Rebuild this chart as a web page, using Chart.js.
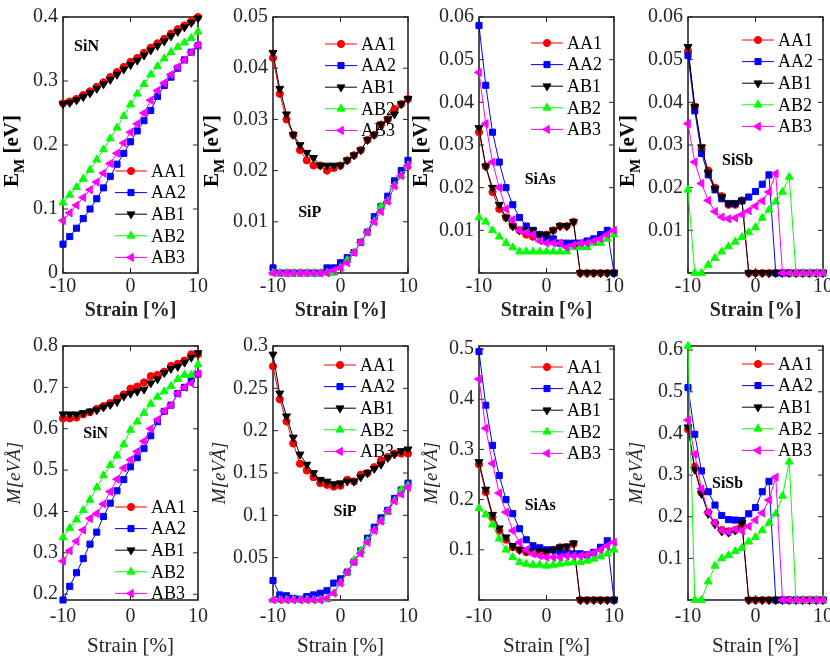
<!DOCTYPE html>
<html><head><meta charset="utf-8">
<script src="https://cdn.jsdelivr.net/npm/chart.js@4.4.1/dist/chart.umd.min.js"></script>
<style>
html,body{margin:0;padding:0;background:#fff;}
#wrap{position:relative;width:830px;height:657px;overflow:hidden;background:#fff;}
.cell{position:absolute;width:225px;height:328px;}
</style></head><body><div id="wrap"></div>
<script>
// ---------- data ----------
const strain = [-10,-9,-8,-7,-6,-5,-4,-3,-2,-1,0,1,2,3,4,5,6,7,8,9,10];
const seriesNames = ['AA1','AA2','AB1','AB2','AB3'];

// E_M [eV]
const siN_E_AA1 = [0.265,0.268,0.272,0.278,0.284,0.291,0.298,0.306,0.314,0.322,0.330,0.336,0.344,0.352,0.359,0.366,0.374,0.381,0.387,0.393,0.400];
const siN_E_AA2 = [0.045,0.057,0.070,0.085,0.100,0.116,0.133,0.151,0.170,0.187,0.205,0.222,0.238,0.254,0.276,0.293,0.306,0.320,0.333,0.345,0.355];
const siN_E_AB1 = [0.264,0.266,0.270,0.275,0.281,0.288,0.295,0.302,0.310,0.318,0.325,0.332,0.340,0.348,0.355,0.362,0.370,0.377,0.384,0.391,0.398];
const siN_E_AB2 = [0.110,0.122,0.134,0.147,0.161,0.177,0.193,0.210,0.227,0.245,0.263,0.280,0.295,0.310,0.323,0.335,0.345,0.353,0.360,0.367,0.377];
const siN_E_AB3 = [0.082,0.094,0.106,0.118,0.130,0.142,0.156,0.171,0.187,0.203,0.220,0.233,0.250,0.270,0.285,0.297,0.310,0.322,0.333,0.345,0.356];

const siP_E_AA1 = [0.042,0.035,0.030,0.027,0.024,0.022,0.021,0.021,0.020,0.0205,0.021,0.022,0.023,0.024,0.026,0.027,0.029,0.030,0.032,0.033,0.034];
const siP_E_AA2 = [0.001,0,0,0,0,0,0,0,0.001,0.001,0.002,0.003,0.004,0.006,0.008,0.011,0.013,0.015,0.018,0.020,0.022];
const siP_E_AB1 = [0.043,0.036,0.031,0.027,0.025,0.0235,0.0225,0.021,0.021,0.021,0.021,0.022,0.023,0.024,0.026,0.027,0.029,0.030,0.031,0.033,0.034];
const siP_E_AB2 = [0,0,0,0,0,0,0,0,0,0,0.001,0.0025,0.004,0.006,0.008,0.010,0.013,0.014,0.017,0.019,0.021];
const siP_E_AB3 = [0,0,0,0,0,0,0,0,0,0.0005,0.001,0.002,0.004,0.006,0.008,0.010,0.012,0.014,0.017,0.019,0.021];

const siAs_E_AA1 = [0.033,0.025,0.019,0.015,0.013,0.011,0.010,0.009,0.0085,0.009,0.009,0.010,0.011,0.011,0.012,0,0,0,0,0,0];
const siAs_E_AA2 = [0.058,0.044,0.033,0.026,0.020,0.016,0.013,0.011,0.010,0.009,0.008,0.008,0.007,0.007,0.007,0.007,0.0075,0.008,0.009,0.010,0];
const siAs_E_AB1 = [0.034,0.025,0.020,0.016,0.013,0.011,0.010,0.010,0.010,0.009,0.009,0.010,0.011,0.011,0.012,0,0,0,0,0,0];
const siAs_E_AB2 = [0.013,0.012,0.010,0.0085,0.007,0.006,0.005,0.005,0.005,0.005,0.005,0.005,0.005,0.005,0.006,0.006,0.006,0.007,0.007,0.008,0.009];
const siAs_E_AB3 = [0.047,0.035,0.026,0.020,0.015,0.0125,0.010,0.0095,0.009,0.0075,0.007,0.007,0.007,0.006,0.0065,0.007,0.007,0.0075,0.008,0.009,0.010];

const siSb_E_AA1 = [0.052,0.039,0.029,0.024,0.020,0.018,0.016,0.016,0.017,0,0,0,0,0,0,0,0,0,0,0,0];
const siSb_E_AA2 = [0.051,0.038,0.028,0.023,0.0195,0.0174,0.0163,0.0163,0.0169,0.0178,0.0191,0.0208,0.023,0,0,0,0,0,0,0,0];
const siSb_E_AB1 = [0.053,0.039,0.0295,0.0235,0.0198,0.0178,0.0163,0.0163,0.017,0,0,0,0,0,0,0,0,0,0,0,0];
const siSb_E_AB2 = [0.0195,0,0,0.0019,0.0035,0.005,0.0062,0.0073,0.0084,0.0095,0.0107,0.0129,0.0148,0.0167,0.019,0.0225,0,0,0,0,0];
const siSb_E_AB3 = [0.035,0.026,0.021,0.017,0.0144,0.0131,0.0127,0.0129,0.0137,0.0146,0.0157,0.0169,0.019,0.0233,0,0,0,0,0,0,0];

// M [eV Å]
const siN_M_AA1 = [0.625,0.625,0.627,0.635,0.640,0.648,0.655,0.662,0.673,0.683,0.697,0.702,0.712,0.727,0.730,0.738,0.752,0.757,0.765,0.780,0.780];
const siN_M_AA2 = [0.186,0.219,0.252,0.286,0.321,0.350,0.388,0.420,0.450,0.477,0.508,0.530,0.552,0.583,0.617,0.642,0.657,0.685,0.700,0.720,0.732];
const siN_M_AB1 = [0.635,0.635,0.635,0.638,0.642,0.645,0.652,0.658,0.665,0.678,0.685,0.690,0.695,0.710,0.720,0.735,0.745,0.750,0.760,0.772,0.783];
const siN_M_AB2 = [0.337,0.360,0.380,0.403,0.428,0.458,0.487,0.512,0.535,0.562,0.597,0.617,0.638,0.660,0.677,0.690,0.703,0.720,0.730,0.730,0.755];
const siN_M_AB3 = [0.280,0.305,0.328,0.355,0.383,0.395,0.418,0.448,0.478,0.505,0.525,0.545,0.570,0.600,0.622,0.643,0.657,0.685,0.700,0.710,0.733];

const siP_M_AA1 = [0.276,0.237,0.211,0.185,0.161,0.153,0.145,0.138,0.136,0.134,0.135,0.142,0.140,0.148,0.150,0.157,0.165,0.169,0.173,0.173,0.173];
const siP_M_AA2 = [0.023,0.006,0.005,0.002,0.001,0.004,0.006,0.008,0.011,0.020,0.025,0.033,0.045,0.058,0.073,0.086,0.097,0.106,0.120,0.130,0.138];
const siP_M_AB1 = [0.290,0.244,0.217,0.192,0.172,0.160,0.150,0.142,0.140,0.137,0.138,0.140,0.140,0.145,0.150,0.155,0.160,0.168,0.172,0.176,0.178];
const siP_M_AB2 = [0,0,0,0,0,0,0,0,0.001,0.008,0.020,0.033,0.047,0.058,0.070,0.082,0.093,0.104,0.117,0.130,0.135];
const siP_M_AB3 = [0,0,0,0,0,0,0,0,0.002,0.008,0.020,0.033,0.045,0.055,0.068,0.082,0.093,0.105,0.117,0.125,0.133];

const siAs_M_AA1 = [0.270,0.215,0.165,0.138,0.120,0.105,0.100,0.095,0.095,0.095,0.095,0.100,0.105,0.105,0.112,0,0,0,0,0,0];
const siAs_M_AA2 = [0.495,0.388,0.308,0.248,0.200,0.172,0.142,0.120,0.108,0.104,0.100,0.100,0.096,0.093,0.092,0.092,0.090,0.095,0.105,0.118,0];
const siAs_M_AB1 = [0.275,0.220,0.170,0.143,0.125,0.108,0.100,0.098,0.097,0.097,0.097,0.100,0.105,0.107,0.113,0,0,0,0,0,0];
const siAs_M_AB2 = [0.183,0.170,0.150,0.122,0.100,0.085,0.075,0.072,0.070,0.070,0.068,0.070,0.072,0.074,0.075,0.075,0.078,0.082,0.087,0.092,0.100];
const siAs_M_AB3 = [0.440,0.342,0.272,0.213,0.175,0.138,0.115,0.100,0.092,0.088,0.085,0.085,0.085,0.088,0.088,0.088,0.090,0.094,0.100,0.108,0.115];

const siSb_M_AA1 = [0.410,0.320,0.258,0.210,0.185,0.168,0.165,0.168,0.180,0,0,0,0,0,0,0,0,0,0,0,0];
const siSb_M_AA2 = [0.510,0.398,0.310,0.260,0.228,0.203,0.193,0.192,0.191,0.207,0.222,0.260,0.285,0,0,0,0,0,0,0,0];
const siSb_M_AB1 = [0.415,0.313,0.255,0.207,0.182,0.165,0.162,0.167,0.185,0,0,0,0,0,0,0,0,0,0,0,0];
const siSb_M_AB2 = [0.610,0,0,0.044,0.082,0.100,0.107,0.117,0.125,0.140,0.151,0.167,0.185,0.207,0.250,0.332,0,0,0,0,0];
const siSb_M_AB3 = [0.432,0.350,0.267,0.210,0.185,0.167,0.164,0.170,0.166,0.177,0.192,0.209,0.240,0.295,0,0,0,0,0,0,0];

// axis ranges / tick steps
const xTickLabels = ['-10','0','10'];
const yRangesTop = [[0,0.4,0.1],[0,0.05,0.01],[0,0.06,0.01],[0,0.06,0.01]];
const yRangesBottom = [[0.186,0.8,0.1],[0,0.3,0.05],[0,0.506,0.1],[0,0.61,0.1]];
const materials = ['SiN','SiP','SiAs','SiSb'];

// ---------- styles ----------
const FONT = '"Liberation Serif", "Times New Roman", serif';
const AXC = '#262626';
const YAXW = 73;
const styles = [
  {color:'#ff0000', pointStyle:'circle',   rotation:0,   radius:3.6, order:5},
  {color:'#0000ff', pointStyle:'rect',     rotation:0,   radius:4.3, order:4},
  {color:'#000000', pointStyle:'triangle', rotation:180, radius:4.6, order:3},
  {color:'#00ff00', pointStyle:'triangle', rotation:0,   radius:4.6, order:2},
  {color:'#ff00ff', pointStyle:'triangle', rotation:270, radius:4.6, order:1}
];

const panels = [
  {row:0, col:0, left:-10, vals:[siN_E_AA1,siN_E_AA2,siN_E_AB1,siN_E_AB2,siN_E_AB3], yr:yRangesTop[0], hideZero:false, name:materials[0], nameAt:[-8.36,0.354], leg:{top:154,dx:83}, yOff:45},
  {row:0, col:1, left:200, vals:[siP_E_AA1,siP_E_AA2,siP_E_AB1,siP_E_AB2,siP_E_AB3], yr:yRangesTop[1], hideZero:true, name:materials[1], nameAt:[-6.27,0.0118], leg:{top:27,dx:83}, yOff:55},
  {row:0, col:2, left:406, vals:[siAs_E_AA1,siAs_E_AA2,siAs_E_AB1,siAs_E_AB2,siAs_E_AB3], yr:yRangesTop[2], hideZero:true, name:materials[2], nameAt:[-3.24,0.0218], leg:{top:26,dx:83}, yOff:52},
  {row:0, col:3, left:615, vals:[siSb_E_AA1,siSb_E_AA2,siSb_E_AB1,siSb_E_AB2,siSb_E_AB3], yr:yRangesTop[3], hideZero:true, name:materials[3], nameAt:[-4.96,0.0263], leg:{top:23,dx:81}, yOff:54},
  {row:1, col:0, left:-10, vals:[siN_M_AA1,siN_M_AA2,siN_M_AB1,siN_M_AB2,siN_M_AB3], yr:yRangesBottom[0], hideZero:false, name:materials[0], nameAt:[-7.0,0.587], leg:{top:161,dx:83}, yPad:15.5},
  {row:1, col:1, left:200, vals:[siP_M_AA1,siP_M_AA2,siP_M_AB1,siP_M_AB2,siP_M_AB3], yr:yRangesBottom[1], hideZero:true, name:materials[1], nameAt:[-1.04,0.104], leg:{top:19,dx:84}, yPad:10.5},
  {row:1, col:2, left:406, vals:[siAs_M_AA1,siAs_M_AA2,siAs_M_AB1,siAs_M_AB2,siAs_M_AB3], yr:yRangesBottom[2], hideZero:true, name:materials[2], nameAt:[-3.24,0.187], leg:{top:21,dx:83}, yPad:16.5},
  {row:1, col:3, left:615, vals:[siSb_M_AA1,siSb_M_AA2,siSb_M_AB1,siSb_M_AB2,siSb_M_AB3], yr:yRangesBottom[3], hideZero:true, name:materials[3], nameAt:[-6.44,0.2785], leg:{top:18,dx:81}, yPad:12.5}
];

function fmt(v){ return String(Number(v.toFixed(4))); }

function drawMarker(ctx, st, x, y){
  ctx.save();
  ctx.fillStyle = st.color; ctx.strokeStyle = st.color; ctx.lineWidth = 1;
  Chart.helpers.drawPoint(ctx, {pointStyle:st.pointStyle, rotation:st.rotation, radius:st.radius, borderWidth:1}, x, y);
  ctx.restore();
}

function makePlugin(p){
  return {
    id:'panelDeco'+p.row+p.col,
    beforeDatasetsDraw(chart){
      const {ctx, chartArea:a, scales:{x,y}} = chart;
      ctx.save();
      // frame
      ctx.strokeStyle = AXC; ctx.lineWidth = 1.6;
      ctx.strokeRect(a.left, a.top, a.right-a.left, a.bottom-a.top);
      // inward ticks on all four sides
      ctx.lineWidth = 1; const TL = 5;
      ctx.beginPath();
      y.ticks.forEach(t=>{ const py = y.getPixelForValue(t.value);
        ctx.moveTo(a.left,py); ctx.lineTo(a.left+TL,py);
        ctx.moveTo(a.right,py); ctx.lineTo(a.right-TL,py); });
      x.ticks.forEach(t=>{ const px = x.getPixelForValue(t.value);
        ctx.moveTo(px,a.bottom); ctx.lineTo(px,a.bottom-TL);
        ctx.moveTo(px,a.top); ctx.lineTo(px,a.top+TL); });
      ctx.stroke();
      // legend (transparent, no box)
      chart.data.datasets.forEach((ds,i)=>{
        const st = styles[i];
        const yy = a.top + p.leg.top + i*21.6;
        const x0 = a.right - p.leg.dx;
        ctx.strokeStyle = st.color; ctx.lineWidth = 1;
        ctx.beginPath(); ctx.moveTo(x0,yy); ctx.lineTo(x0+32,yy); ctx.stroke();
        drawMarker(ctx, st, x0+16, yy);
        ctx.fillStyle = '#000'; ctx.font = '18px '+FONT;
        ctx.textAlign = 'left'; ctx.textBaseline = 'middle';
        ctx.fillText(ds.label, x0+36, yy+1);
      });
      // material label
      ctx.fillStyle = '#000'; ctx.font = 'bold 16px '+FONT;
      ctx.textAlign = 'left'; ctx.textBaseline = 'middle';
      ctx.fillText(p.name, x.getPixelForValue(p.nameAt[0]), y.getPixelForValue(p.nameAt[1]));
      // E_M [eV] y title (top row)
      if (p.row === 0){
        const cy = (a.top+a.bottom)/2 + 6;
        const xb = a.left - p.yOff;
        ctx.translate(xb, cy); ctx.rotate(-Math.PI/2);
        ctx.fillStyle = '#000'; ctx.textBaseline = 'alphabetic'; ctx.textAlign = 'left';
        const fBig = 'bold 21px '+FONT, fSub = 'bold 15px '+FONT;
        ctx.font = fBig; const wE = ctx.measureText('E').width; const wR = ctx.measureText(' [eV]').width;
        ctx.font = fSub; const wM = ctx.measureText('M').width;
        let sx = -(wE+wM+wR)/2;
        ctx.font = fBig; ctx.fillText('E', sx, 0); sx += wE;
        ctx.font = fSub; ctx.fillText('M', sx, 6); sx += wM;
        ctx.font = fBig; ctx.fillText(' [eV]', sx, 0);
      }
      ctx.restore();
    }
  };
}

const wrap = document.getElementById('wrap');
panels.forEach(p=>{
  const div = document.createElement('div');
  div.className = 'cell';
  div.style.left = p.left+'px';
  div.style.top = (p.row===0 ? 0 : 329)+'px';
  const cv = document.createElement('canvas');
  div.appendChild(cv); wrap.appendChild(div);
  const datasets = p.vals.map((vals,i)=>({
    label: seriesNames[i],
    data: strain.map((sx,k)=>({x:sx, y:vals[k]})),
    borderColor: styles[i].color,
    backgroundColor: styles[i].color,
    pointBackgroundColor: styles[i].color,
    pointBorderColor: styles[i].color,
    pointStyle: styles[i].pointStyle,
    rotation: styles[i].rotation,
    pointRadius: styles[i].radius,
    pointHoverRadius: styles[i].radius,
    pointBorderWidth: 1,
    borderWidth: 1,
    tension: 0,
    fill: false,
    clip: false,
    order: styles[i].order
  }));
  const isTop = p.row===0;
  new Chart(cv, {
    type:'line',
    data:{datasets},
    plugins:[makePlugin(p)],
    options:{
      responsive:true, maintainAspectRatio:false, animation:false,
      events:[],
      layout:{padding:{left:0,top:6,right:17,bottom:0}, autoPadding:false},
      plugins:{legend:{display:false}, tooltip:{enabled:false}},
      scales:{
        x:{type:'linear', min:-10, max:10,
           grid:{display:false, drawTicks:false}, border:{display:false},
           afterBuildTicks:(s)=>{ s.ticks = xTickLabels.map(t=>({value:Number(t)})); },
           ticks:{color:AXC, padding:isTop?2:5, maxRotation:0, autoSkip:false,
                  font:{family:FONT, size:20},
                  callback:(v)=>String(v)},
           title:{display:true, text:'Strain [%]', color:AXC,
                  font:isTop?{family:FONT, size:20, weight:'bold', lineHeight:1.2}:{family:FONT, size:21, weight:'normal', lineHeight:1},
                  padding:isTop?{top:0,bottom:5}:{top:0,bottom:0.5}},
           afterFit:(s)=>{ s.height = isTop ? 55 : 57; }
        },
        y:{type:'linear', min:p.yr[0], max:p.yr[1],
           grid:{display:false, drawTicks:false}, border:{display:false},
           ticks:{stepSize:p.yr[2], includeBounds:false, color:AXC, padding:5, autoSkip:false,
                  font:{family:FONT, size:20},
                  callback:(v)=> (p.hideZero && Math.abs(v)<1e-12) ? '' : fmt(v)},
           title: isTop ? {display:false} : {display:true, text:'M[eVÅ]', color:AXC,
                  font:{family:FONT, size:19, style:'italic', lineHeight:1},
                  padding:{top:p.yPad, bottom:0}},
           afterFit:(s)=>{ s.width = YAXW; }
        }
      }
    }
  });
});
</script>
</body></html>
